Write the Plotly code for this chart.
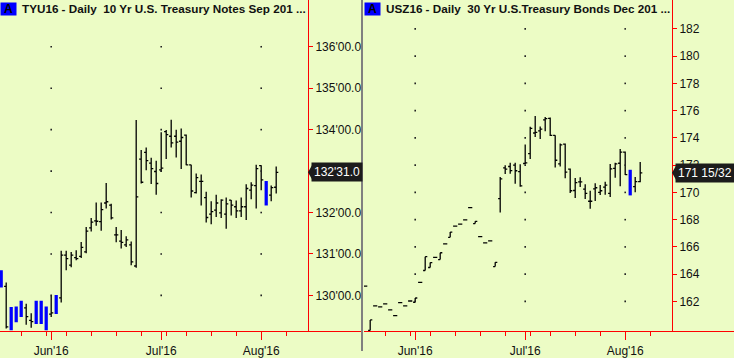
import datetime as dt
import plotly.graph_objects as go

# ---------------- data ----------------
dates = [
    "2016-05-17", "2016-05-18", "2016-05-19", "2016-05-20", "2016-05-23", "2016-05-24",
    "2016-05-25", "2016-05-26", "2016-05-27", "2016-05-31", "2016-06-01", "2016-06-02",
    "2016-06-03", "2016-06-06", "2016-06-07", "2016-06-08", "2016-06-09", "2016-06-10",
    "2016-06-13", "2016-06-14", "2016-06-15", "2016-06-16", "2016-06-17", "2016-06-20",
    "2016-06-21", "2016-06-22", "2016-06-23", "2016-06-24", "2016-06-27", "2016-06-28",
    "2016-06-29", "2016-06-30", "2016-07-01", "2016-07-05", "2016-07-06", "2016-07-07",
    "2016-07-08", "2016-07-11", "2016-07-12", "2016-07-13", "2016-07-14", "2016-07-15",
    "2016-07-18", "2016-07-19", "2016-07-20", "2016-07-21", "2016-07-22", "2016-07-25",
    "2016-07-26", "2016-07-27", "2016-07-28", "2016-07-29", "2016-08-01", "2016-08-02",
    "2016-08-03", "2016-08-04",
]

# TYU16 - 10 Yr T-Notes (decimal points)
tyu_open = [130.61, 130.22, 129.72, 129.73, 129.87, 129.70, 129.40, 129.87, 129.87, 129.73,
            129.55, 130.01, 129.94, 130.97, 130.73, 130.91, 130.94, 131.05, 131.63, 131.80,
            131.78, 132.23, 132.18, 131.46, 131.31, 131.22, 131.22, 130.71, 133.29, 133.45,
            133.19, 132.99, 133.03, 133.95, 133.84, 133.84, 133.72, 133.87, 133.15, 132.48,
            132.75, 132.36, 131.96, 132.06, 131.99, 131.96, 132.30, 132.14, 132.04, 132.14,
            132.54, 132.65, 133.13, 132.76, 132.42, 132.61]
tyu_high = [130.61, 130.31, 129.72, 129.73, 129.87, 129.80, 129.57, 129.87, 129.87, 129.73,
            130.00, 130.01, 131.08, 131.08, 131.05, 131.09, 131.29, 131.65, 131.87, 132.24,
            132.24, 132.71, 132.21, 131.65, 131.58, 131.43, 131.30, 134.23, 133.51, 133.57,
            133.32, 133.25, 133.94, 133.99, 134.24, 134.00, 134.03, 133.88, 133.15, 132.94,
            132.92, 132.50, 132.27, 132.43, 132.32, 132.36, 132.30, 132.29, 132.36, 132.68,
            132.73, 133.15, 133.14, 132.76, 132.65, 133.11]
tyu_low = [130.19, 129.20, 129.16, 129.35, 129.48, 129.29, 129.22, 129.31, 129.31, 129.16,
           129.48, 129.55, 129.83, 130.61, 130.68, 130.85, 130.90, 131.02, 131.54, 131.68,
           131.56, 132.10, 131.83, 131.28, 131.13, 131.17, 130.73, 130.67, 132.70, 133.02,
           132.69, 132.43, 132.98, 133.29, 133.57, 133.33, 133.05, 133.14, 132.36, 132.46,
           132.17, 131.76, 131.72, 131.89, 131.87, 131.61, 131.93, 131.87, 131.89, 131.82,
           132.32, 132.10, 132.54, 132.17, 132.27, 132.46]
tyu_close = [130.19, 129.24, 129.16, 129.35, 129.48, 129.49, 129.37, 129.31, 129.31, 129.16,
             129.58, 129.55, 130.97, 130.89, 130.97, 130.89, 131.16, 131.55, 131.77, 131.79,
             132.07, 132.26, 131.87, 131.46, 131.28, 131.34, 130.81, 132.38, 132.73, 133.25,
             133.06, 132.70, 133.07, 133.88, 133.68, 133.70, 133.81, 133.15, 132.52, 132.84,
             132.75, 131.88, 132.02, 132.23, 132.30, 132.21, 132.18, 132.04, 132.14, 132.58,
             132.66, 133.06, 132.79, 132.17, 132.60, 132.97]
tyu_blue = [1, 0, 1, 1, 1, 0, 0, 1, 1, 1, 0, 1, 0, 0, 0, 0, 0, 0, 0, 0, 0, 0, 0, 0, 0, 0, 0, 0,
            0, 0, 0, 0, 0, 0, 0, 0, 0, 0, 0, 0, 0, 0, 0, 0, 0, 0, 0, 0, 0, 0, 0, 0, 0, 1, 0, 0]

# USZ16 - 30 Yr T-Bonds
usz_open = [163.12, 159.87, 161.67, 161.60, 161.82, 161.38, 160.95, 161.91, 161.67, 162.03,
            161.94, 163.40, 164.27, 164.49, 165.23, 165.07, 166.22, 166.70, 167.52, 167.67,
            167.98, 168.89, 167.71, 166.75, 166.29, 166.44, 164.56, 169.55, 171.80, 171.90,
            172.00, 171.52, 172.12, 172.84, 174.36, 174.52, 175.32, 175.44, 174.19, 172.09,
            173.54, 171.71, 170.14, 170.77, 170.24, 169.35, 170.26, 170.00, 170.39, 169.93,
            171.76, 172.14, 172.96, 171.66, 170.43, 170.79]
usz_high = [163.12, 160.64, 161.67, 161.60, 161.82, 161.38, 160.95, 161.91, 161.67, 162.03,
            162.25, 163.40, 165.28, 164.85, 165.23, 165.57, 166.22, 167.09, 167.52, 167.67,
            167.98, 168.89, 167.88, 166.75, 166.29, 166.44, 164.87, 171.13, 172.00, 172.17,
            172.17, 172.07, 173.51, 174.81, 175.61, 174.84, 175.54, 175.49, 174.19, 173.59,
            173.59, 171.76, 171.06, 171.11, 170.60, 170.12, 170.67, 170.55, 170.79, 172.09,
            172.17, 173.18, 173.01, 171.66, 171.13, 172.24]
usz_low = [163.12, 159.87, 161.67, 161.60, 161.82, 161.38, 160.95, 161.91, 161.67, 162.03,
           161.94, 163.40, 164.27, 164.49, 165.23, 165.07, 166.22, 166.70, 167.52, 167.67,
           167.98, 168.89, 167.71, 166.75, 166.29, 166.44, 164.56, 168.53, 171.35, 171.37,
           170.63, 170.41, 172.07, 172.45, 174.07, 173.92, 174.48, 174.14, 171.83, 171.90,
           171.03, 169.95, 169.59, 170.39, 169.52, 168.80, 169.37, 169.81, 169.83, 169.66,
           171.08, 170.46, 171.28, 169.78, 170.02, 170.75]
usz_close = [163.12, 160.64, 161.67, 161.60, 161.82, 161.38, 160.95, 161.91, 161.67, 162.03,
             162.25, 163.40, 165.28, 164.85, 165.23, 165.57, 166.22, 167.09, 167.52, 167.67,
             167.98, 168.89, 167.88, 166.75, 166.29, 166.44, 164.87, 171.00, 171.71, 171.60,
             171.59, 170.48, 172.17, 174.70, 174.40, 174.65, 175.42, 174.19, 172.36, 173.49,
             171.49, 170.12, 170.72, 170.77, 169.93, 169.35, 170.34, 170.12, 170.53, 171.73,
             172.09, 172.96, 171.30, 169.78, 170.79, 171.44]
usz_blue = [0] * 53 + [1, 0, 0]

tyu_title = "TYU16 - Daily\u00a0 10 Yr U.S. Treasury Notes Sep 201 ..."
usz_title = "USZ16 - Daily\u00a0 30 Yr U.S.Treasury Bonds Dec 201 ..."
tyu_tick_vals = [130, 131, 132, 133, 134, 135, 136]
tyu_tick_text = ["130'00.0", "131'00.0", "132'00.0", "133'00.0", "134'00.0", "135'00.0", "136'00.0"]
usz_tick_vals = [162, 164, 166, 168, 170, 172, 174, 176, 178, 180, 182]
usz_tick_text = ["162", "164", "166", "168", "170", "172", "174", "176", "178", "180", "182"]
tyu_last_text = "132'31.0"
usz_last_text = "171 15/32"

# ---------------- helpers ----------------
W, H = 734, 358
BG = "#ECFCC5"
RED = "#FF0000"
TXT = "#111111"
FONT = "Liberation Sans, Arial, sans-serif"


def px(v):
    return v / W


def py(v):
    return 1 - v / H


idx = list(range(len(dates)))
dd = [dt.date.fromisoformat(d) for d in dates]
month_idx = [i for i in idx if i > 0 and dd[i].month != dd[i - 1].month]
month_lbl = [dd[i].strftime("%b'%y") for i in month_idx]
week_idx = [i for i in idx if i > 0 and dd[i].isocalendar()[1] != dd[i - 1].isocalendar()[1]]
week_idx.append(week_idx[-1] + 5)

fig = go.Figure()


def add_panel(o, h, l, c, blue, xa, ya, tickvals):
    bx = [i for i in idx if not blue[i]]
    fig.add_trace(go.Ohlc(
        x=bx, open=[o[i] for i in bx], high=[h[i] for i in bx],
        low=[l[i] for i in bx], close=[c[i] for i in bx],
        increasing_line_color="black", decreasing_line_color="black",
        line_width=1.3, tickwidth=0.42, xaxis=xa, yaxis=ya,
        showlegend=False, hoverinfo="skip"))
    bl = [i for i in idx if blue[i]]
    fig.add_trace(go.Bar(
        x=bl, y=[h[i] - l[i] for i in bl], base=[l[i] for i in bl],
        width=0.65, marker_color="#0000FF", marker_line_width=0,
        xaxis=xa, yaxis=ya, showlegend=False, hoverinfo="skip"))
    gx, gy = [], []
    for m in month_idx:
        for t in tickvals:
            gx.append(m)
            gy.append(t)
    fig.add_trace(go.Scatter(
        x=gx, y=gy, mode="markers", marker=dict(size=1.6, color="#222", symbol="square"),
        xaxis=xa, yaxis=ya, showlegend=False, hoverinfo="skip"))


add_panel(tyu_open, tyu_high, tyu_low, tyu_close, tyu_blue, "x", "y", tyu_tick_vals)
add_panel(usz_open, usz_high, usz_low, usz_close, usz_blue, "x2", "y2", usz_tick_vals)

UPP = 0.2  # index units per pixel
xcommon = dict(
    showline=True, linecolor=RED, linewidth=1, ticks="outside", ticklen=8, tickcolor=RED,
    tickmode="array", tickvals=month_idx, ticktext=month_lbl, showgrid=False, zeroline=False,
    tickfont=dict(family=FONT, size=12, color=TXT),
    minor=dict(tickvals=week_idx, ticks="outside", ticklen=4, tickcolor=RED, showgrid=False),
    rangeslider=dict(visible=False), fixedrange=True,
)
ycommon = dict(
    showline=True, linecolor=RED, linewidth=1, ticks="outside", ticklen=4, tickcolor=RED,
    tickmode="array", showgrid=False, zeroline=False, side="right", anchor="free",
    tickfont=dict(family=FONT, size=12, color=TXT), domain=[py(338), 1], fixedrange=True,
)

fig.update_layout(
    width=W, height=H, margin=dict(l=0, r=0, t=0, b=0),
    paper_bgcolor=BG, plot_bgcolor=BG, barmode="overlay",
    xaxis=dict(xcommon, domain=[0, px(362)], range=[-0.24, -0.24 + 362 * UPP], anchor="y"),
    yaxis=dict(ycommon, position=px(308), range=[129.132, 137.128],
               tickvals=tyu_tick_vals, ticktext=tyu_tick_text),
    xaxis2=dict(xcommon, domain=[px(364), 1], range=[-0.24, -0.24 + 370 * UPP], anchor="y2"),
    yaxis2=dict(ycommon, position=px(672), range=[159.80, 184.12],
                tickvals=usz_tick_vals, ticktext=usz_tick_text),
)

annos = []
shapes = []
for x0, title in ((0, tyu_title), (364, usz_title)):
    annos.append(dict(xref="paper", yref="paper", x=px(x0), y=py(2), xanchor="left", yanchor="top",
                      text="<b>A</b>", showarrow=False, bgcolor="#0000FF", width=15, height=12,
                      borderpad=0, font=dict(family=FONT, size=12, color="black")))
    annos.append(dict(xref="paper", yref="paper", x=px(x0 + 20), y=py(9), xanchor="left",
                      yanchor="middle", text="<b>" + title + "</b>", showarrow=False,
                      font=dict(family=FONT, size=11.7, color=TXT)))

for xa, ya, xpos, last, txt in (("x", "y", 308, tyu_close[-1], tyu_last_text),
                                ("x2", "y2", 672, usz_close[-1], usz_last_text)):
    annos.append(dict(xref="paper", yref=ya, x=px(xpos + 3), y=last, xanchor="left",
                      yanchor="middle", text=txt, showarrow=False, bgcolor="#1C1C1C",
                      borderpad=2, font=dict(family=FONT, size=12, color="white")))
    shapes.append(dict(type="path", xref="paper", yref=ya, xsizemode="pixel", ysizemode="pixel",
                       xanchor=px(xpos), yanchor=last, path="M 0,0 L 4,-7 L 4,7 Z",
                       fillcolor="#1C1C1C", line=dict(width=0), layer="above"))

shapes.append(dict(type="line", xref="paper", yref="paper", x0=px(362), x1=px(362), y0=0, y1=1,
                   line=dict(color="#808080", width=2), layer="above"))

fig.update_layout(annotations=annos, shapes=shapes)
fig.write_html("out.html", config={"displayModeBar": False, "staticPlot": True},
               post_script="document.body.style.margin='0';document.body.style.overflow='hidden';")
